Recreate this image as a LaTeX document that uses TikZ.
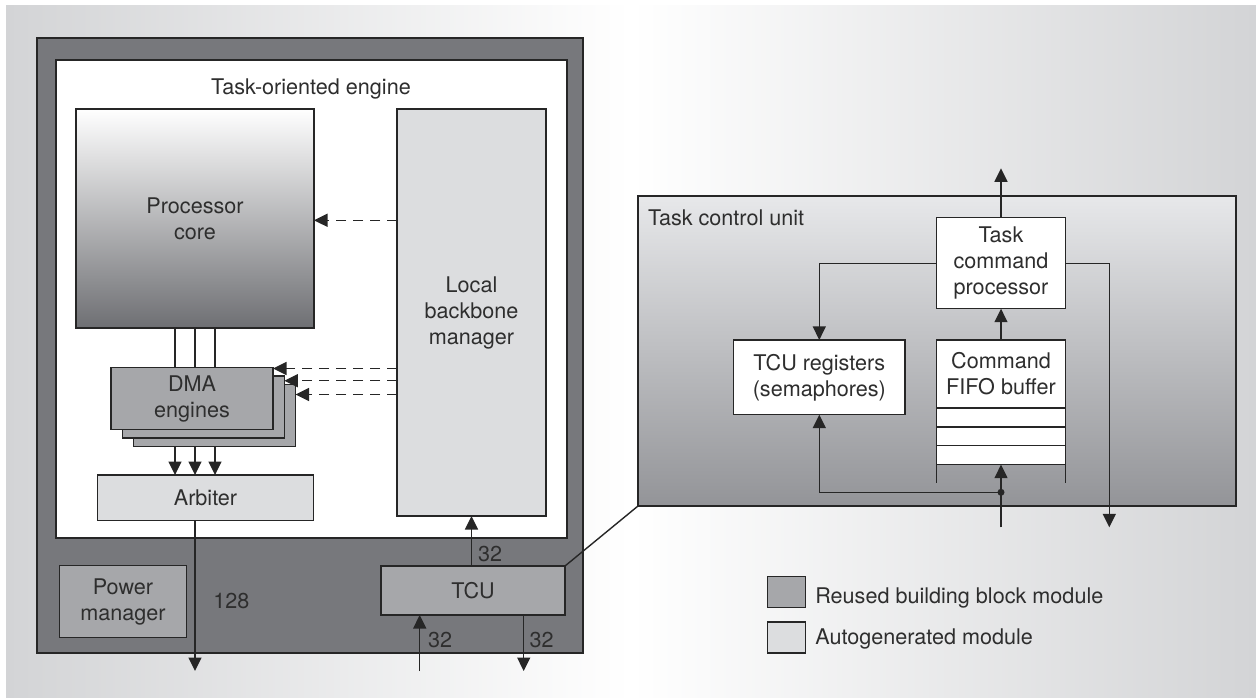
\documentclass[tikz,border=0pt]{standalone}
\usepackage{fontspec}
\setmainfont{TeX Gyre Heros}
\usetikzlibrary{arrows.meta,calc}
\definecolor{darkfill}{HTML}{77787C}
\definecolor{midfill}{HTML}{A6A7AA}
\definecolor{lightfill}{HTML}{DCDDDF}
\definecolor{linec}{HTML}{262626}
\definecolor{txt}{HTML}{2E2E2E}
\definecolor{bgL}{HTML}{D3D4D6}
\definecolor{procbot}{HTML}{6E6F73}
\definecolor{tcutop}{HTML}{E7E8EA}
\definecolor{tcubot}{HTML}{939498}
\newcommand\dlbl{\fontsize{21.6}{26}\selectfont}
\begin{document}
\begin{tikzpicture}[x=1pt,y=-1pt,
  box/.style={draw=linec, line width=1.4pt, inner sep=0pt, outer sep=0pt, align=center, font=\dlbl, text=txt},
  lab/.style={inner sep=0pt, outer sep=0pt, font=\dlbl, text=txt},
  conn/.style={draw=linec, line width=1.4pt},
  arr/.style={conn, -{Triangle[length=13.5pt,width=13pt]}},
  darr/.style={arr, dash pattern=on 10pt off 7pt}]
\useasboundingbox (0,0) rectangle (1256,698);
\fill[white] (0,0) rectangle (1256,698);
\shade[left color=bgL, right color=bgL, middle color=white] (6,6) rectangle (1256,698);

% Task-oriented engine
\node[box, fill=darkfill, minimum width=546pt, minimum height=615pt] (toe) at (310,345.5) {};
\node[box, fill=white, minimum width=511pt, minimum height=478pt] (inner) at (311.5,299) {};
\node[lab, anchor=base] (toetitle) at (311,94.3) {Task-oriented engine};

\node[box, top color=white, bottom color=procbot, minimum width=238pt, minimum height=219pt] (proc) at (195,218.5) {Processor\\core};
\node[box, fill=lightfill, minimum width=149pt, minimum height=407pt] (lbm) at (471.5,312.5) {Local\\backbone\\manager};

\node[box, fill=midfill, minimum width=162pt, minimum height=62pt] (dma3) at (214.6,415.5) {};
\node[box, fill=midfill, minimum width=162pt, minimum height=62pt] (dma2) at (203.3,407) {};
\node[box, fill=midfill, minimum width=162pt, minimum height=62pt] (dma1) at (192,398.5) {DMA\\engines};

\node[box, fill=lightfill, minimum width=216.4pt, minimum height=45.3pt] (arb) at (205.5,497.7) {Arbiter};
\node[box, fill=midfill, minimum width=127.4pt, minimum height=71.6pt] (pm) at (123,601.5) {Power\\manager};
\node[box, fill=midfill, minimum width=184pt, minimum height=49pt] (tcu) at (473,590.5) {TCU};

% processor <-> DMA <-> arbiter
\coordinate (c1) at ([xshift=-20pt]proc.south);
\coordinate (c2) at (proc.south);
\coordinate (c3) at ([xshift=20pt]proc.south);
\foreach \c in {c1,c2,c3}{
  \draw[conn] (\c) -- (\c |- dma1.north);
  \draw[arr] (\c |- dma3.south) -- (\c |- arb.north);
}

% dashed control arrows
\coordinate (pa) at ([yshift=-1.8pt]proc.east);
\draw[darr] (lbm.west |- pa) -- (pa);
\coordinate (da1) at ([yshift=-1pt]dma1.north east);
\coordinate (da2) at ([yshift=-4.7pt]dma2.north east);
\coordinate (da3) at ([yshift=-10pt]dma3.north east);
\draw[darr] (lbm.west |- da1) -- (da1);
\draw[darr] (lbm.west |- da2) -- (da2);
\draw[darr] (lbm.west |- da3) -- (da3);

% outputs
\coordinate (tin) at (419.7,671);
\coordinate (tout) at (523.7,671);
\draw[arr] (c2 |- arb.south) -- (c2 |- tin);
\node[lab, anchor=base west] (l128) at (213.3,608) {128};
\draw[arr] (lbm.south |- tcu.north) -- (lbm.south);
\node[lab, anchor=base west] (l32a) at (478,561) {32};
\draw[arr] (tin) -- (tin |- tcu.south);
\node[lab, anchor=base west] (l32b) at (428,647) {32};
\draw[arr] (tout |- tcu.south) -- (tout);
\node[lab, anchor=base west] (l32c) at (529.7,647) {32};

% Task control unit detail
\node[box, top color=tcutop, bottom color=tcubot, minimum width=598pt, minimum height=310pt] (tcubig) at (937,351) {};
\draw[conn] (tcu.north east) -- (tcubig.south west);
\node[lab, anchor=base west] (tcutitle) at (648,225.7) {Task control unit};

\node[box, fill=white, minimum width=128.6pt, minimum height=91pt] (tcp) at (1001,263.2) {Task\\command\\processor};
\node[box, fill=white, minimum width=171.3pt, minimum height=74.7pt] (regs) at (819.3,377.3) {TCU registers\\(semaphores)};
\node[box, fill=white, minimum width=128.6pt, minimum height=68pt] (fifo) at (1001,374) {Command\\FIFO buffer};
\node[box, fill=white, minimum width=128.6pt, minimum height=18.9pt] (r1) at (1001,417.4) {};
\node[box, fill=white, minimum width=128.6pt, minimum height=18.9pt] (r2) at (1001,436.3) {};
\node[box, fill=white, minimum width=128.6pt, minimum height=18.9pt] (r3) at (1001,455.2) {};
\draw[conn] (r3.south west) -- ++(0,18.6);
\draw[conn] (r3.south east) -- ++(0,18.6);

\coordinate (tpo) at (1001,168.3);
\coordinate (tpd) at (1109.3,527.3);
\coordinate (fin) at (1001,527.3);
\coordinate (jn) at (1001,492.3);
\draw[arr] (tcp.north) -- (tpo);
\draw[arr] (tcp.west) -| (regs.north);
\draw[arr] (tcp.east) -| (tpd);
\draw[arr] (fifo.north) -- (tcp.south);
\draw[arr] (fin) -- (r3.south);
\draw[arr] (jn) -| (regs.south);
\fill[linec] (jn) circle (3.5pt);

% legend
\node[box, fill=midfill, minimum width=38pt, minimum height=30.6pt] (leg1) at (786.3,592) {};
\node[box, fill=lightfill, minimum width=38pt, minimum height=31pt] (leg2) at (786.3,637.5) {};
\node[lab, anchor=base west] (leg1t) at (815.3,603) {Reused building block module};
\node[lab, anchor=base west] (leg2t) at (815.3,644) {Autogenerated module};
\end{tikzpicture}
\end{document}
